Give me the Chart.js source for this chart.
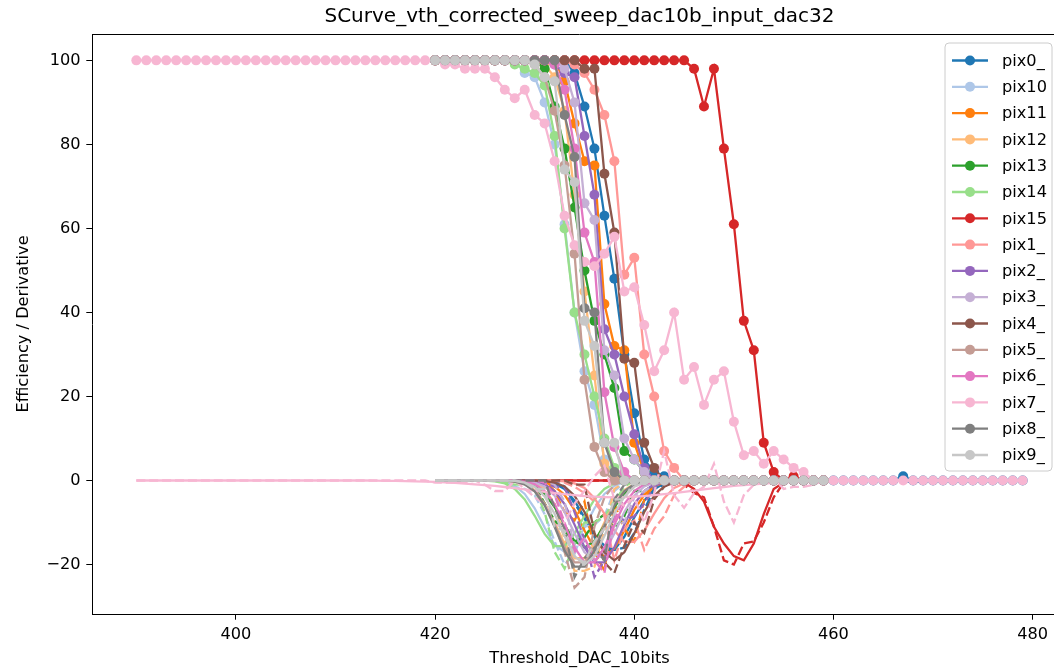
<!DOCTYPE html>
<html>
<head>
<meta charset="utf-8">
<script src="https://cdn.jsdelivr.net/npm/chart.js@4.4.1/dist/chart.umd.min.js"></script>
<style>
  html, body { margin: 0; padding: 0; background: #fff; overflow: hidden; width: 1054px; height: 669px; }
  #wrap { position: absolute; left: 0; top: 0; width: 1075px; height: 669px; }
</style>
</head>
<body>
<div id="wrap"><canvas id="c" width="1075" height="669"></canvas></div>
<script>
// ---------------- DATA ----------------
const chartTitle = 'SCurve_vth_corrected_sweep_dac10b_input_dac32';
const xTitle = 'Threshold_DAC_10bits';
const yTitle = 'Efficiency / Derivative';
const xTickValues = [400, 420, 440, 460, 480];
const yTickValues = [-20, 0, 20, 40, 60, 80, 100];

const thresholds = [
  390,391,392,393,394,395,396,397,398,399,
  400,401,402,403,404,405,406,407,408,409,
  410,411,412,413,414,415,416,417,418,419,
  420,421,422,423,424,425,426,427,428,429,
  430,431,432,433,434,435,436,437,438,439,
  440,441,442,443,444,445,446,447,448,449,
  450,451,452,453,454,455,456,457,458,459,
  460,461,462,463,464,465,466,467,468,469,
  470,471,472,473,474,475,476,477,478,479
];

const pixelLabels = ['pix0_','pix10','pix11','pix12','pix13','pix14','pix15','pix1_','pix2_','pix3_','pix4_','pix5_','pix6_','pix7_','pix8_','pix9_'];
const firstDac    = [420, 420, 420, 420, 420, 420, 420, 420, 420, 420, 420, 420, 420, 390, 420, 420];

// Efficiency (S-curve) values
const eff_pix0 = [100,100,100,100,100,100,100,100,100,100,100,100,100,100,97,89,79,63,48,30,16,5,2,1,0,0,0,0,0,0,0,0,0,0,0,0,0,0,0,0,0,0,0,0,0,0,0,1,0,0,0,0,0,0,0,0,0,0,0,0];
const eff_pix10 = [100,100,100,100,100,100,100,100,100,97,96,90,80,61,40,26,18,5,1,0,0,0,0,0,0,0,0,0,0,0,0,0,0,0,0,0,0,0,0,0];
const eff_pix11 = [100,100,100,100,100,100,100,100,100,100,100,100,100,95,85,76,75,42,32,31,9,2,0,0,0,0,0,0,0,0,0,0,0,0,0,0,0,0,0,0];
const eff_pix12 = [100,100,100,100,100,100,100,100,100,100,100,99,96,88,68,45,25,4,1,0,0,0,0,0,0,0,0,0,0,0,0,0,0,0,0,0,0,0,0,0];
const eff_pix13 = [100,100,100,100,100,100,100,100,100,100,100,98,89,79,65,50,38,30,22,7,5,2,0,0,0,0,0,0,0,0,0,0,0,0,0,0,0,0,0,0];
const eff_pix14 = [100,100,100,100,100,100,100,100,99,98,97,94,82,60,40,30,20,10,3,0,0,0,0,0,0,0,0,0,0,0,0,0,0,0,0,0,0,0,0,0];
const eff_pix15 = [100,100,100,100,100,100,100,100,100,100,100,100,100,100,100,100,100,100,100,100,100,100,100,100,100,100,98,89,98,79,61,38,31,9,2,0,1,0,0,0];
const eff_pix1 = [100,100,100,100,100,100,100,100,100,100,100,100,100,100,99,97,93,87,76,49,53,30,20,7,3,0,0,0,0,0,0,0,0,0,0,0,0,0,0,0];
const eff_pix2 = [100,100,100,100,100,100,100,100,100,100,100,100,99,97,96,82,68,36,30,20,11,3,0,0,0,0,0,0,0,0,0,0,0,0,0,0,0,0,0,0];
const eff_pix3 = [100,100,100,100,100,100,100,100,100,100,100,100,100,98,90,66,62,31,25,10,5,2,0,0,0,0,0,0,0,0,0,0,0,0,0,0,0,0,0,0];
const eff_pix4 = [100,100,100,100,100,100,100,100,100,100,100,100,100,100,100,98,98,73,59,29,28,9,3,0,0,0,0,0,0,0,0,0,0,0,0,0,0,0,0,0];
const eff_pix5 = [100,100,100,100,100,100,100,100,100,100,99,96,88,75,54,24,8,2,0,0,0,0,0,0,0,0,0,0,0,0,0,0,0,0,0,0,0,0,0,0];
const eff_pix6 = [100,100,100,100,100,100,100,100,100,100,100,100,99,93,79,59,52,21,8,2,0,0,0,0,0,0,0,0,0,0,0,0,0,0,0,0,0,0,0,0];
const eff_pix7 = [100,100,100,100,100,100,100,100,100,100,100,100,100,100,100,100,100,100,100,100,100,100,100,100,100,100,100,100,100,100,100,
  99,99,98,98,98,96,93,91,93,87,85,76,63,56,52,51,54,58,45,46,37,26,31,40,24,27,18,24,26,14,6,7,4,7,5,3,2,
  0,0,0,0,0,0,0,0,0,0,0,0,0,0,0,0,0,0,0,0,0,0];
const eff_pix8 = [100,100,100,100,100,100,100,100,100,100,100,100,100,87,77,41,40,9,2,0,0,0,0,0,0,0,0,0,0,0,0,0,0,0,0,0,0,0,0,0];
const eff_pix9 = [100,100,100,100,100,100,100,100,100,100,99,96,95,74,71,38,32,9,9,0,0,0,0,0,0,0,0,0,0,0,0,0,0,0,0,0,0,0,0,0];

// Smooth derivative (solid lines)
const fit_pix0 = [0,0,0,0,0,0,0,0,0,0,0,-0.2,-0.7,-2.0,-4.8,-8.8,-13.4,-16.5,-16.5,-13.4,-8.8,-4.8,-2.0,-0.7,-0.2,0,0,0,0,0,0,0,0,0,0,0,0,0,0,0,0,0,0,0,0,0,0,0,0,0,0,0,0,0,0,0,0,0,0,0];
const fit_pix10 = [0,0,0,0,0,0,-0.1,-0.4,-1.3,-3.2,-6.6,-11.2,-15.3,-17,-15.3,-11.2,-6.6,-3.2,-1.3,-0.4,-0.1,0,0,0,0,0,0,0,0,0,0,0,0,0,0,0,0,0,0,0];
const fit_pix11 = [0,0,0,0,0,0,0,0,0,0,-0.1,-0.4,-1.4,-3.4,-7.0,-11.9,-16.2,-18,-16.2,-11.9,-7.0,-3.4,-1.4,-0.4,-0.1,0,0,0,0,0,0,0,0,0,0,0,0,0,0,0];
const fit_pix12 = [0,0,0,0,0,0,0,0,-0.25,-0.8,-2.3,-5.4,-10.0,-15.1,-18.5,-18.5,-15.1,-10.0,-5.4,-2.3,-0.8,-0.25,0,0,0,0,0,0,0,0,0,0,0,0,0,0,0,0,0,0];
const fit_pix13 = [0,0,0,0,0,0,0,0,-0.1,-0.4,-1.2,-3.1,-6.3,-10.6,-14.4,-16,-14.4,-10.6,-6.3,-3.1,-1.2,-0.4,-0.1,0,0,0,0,0,0,0,0,0,0,0,0,0,0,0,0,0];
const fit_pix14 = [0,0,0,0,0,0,-0.2,-0.7,-2.0,-4.5,-8.4,-12.7,-15.6,-15.6,-12.7,-8.4,-4.5,-2.0,-0.7,-0.2,0,0,0,0,0,0,0,0,0,0,0,0,0,0,0,0,0,0,0,0];
const fit_pix15 = [0,0,0,0,0,0,0,0,0,0,0,0,0,0,0,0,0,0,0,0,0,0,0,0,0,-0.5,-2,-5,-11,-15,-18,-19,-15,-8,-2,-0.5,0,0,0,0];
const fit_pix1 = [0,0,0,0,0,0,0,0,0,0,0,0,0,-0.2,-0.7,-1.8,-4.2,-7.9,-11.9,-14.6,-14.6,-11.9,-7.9,-4.2,-1.8,-0.7,-0.2,0,0,0,0,0,0,0,0,0,0,0,0,0];
const fit_pix2 = [0,0,0,0,0,0,0,0,0,0,-0.25,-0.9,-2.5,-5.6,-10.5,-15.9,-19.5,-19.5,-15.9,-10.5,-5.6,-2.5,-0.9,-0.25,0,0,0,0,0,0,0,0,0,0,0,0,0,0,0,0];
const fit_pix3 = [0,0,0,0,0,0,0,0,0,-0.1,-0.5,-1.4,-3.6,-7.5,-12.6,-17.1,-19,-17.1,-12.6,-7.5,-3.6,-1.4,-0.5,-0.1,0,0,0,0,0,0,0,0,0,0,0,0,0,0,0,0];
const fit_pix4 = [0,0,0,0,0,0,0,0,0,0,0,-0.1,-0.5,-1.4,-3.6,-7.5,-12.6,-17.1,-19,-17.1,-12.6,-7.5,-3.6,-1.4,-0.5,-0.1,0,0,0,0,0,0,0,0,0,0,0,0,0,0];
const fit_pix5 = [0,0,0,0,0,0,0,0,-0.25,-0.9,-2.5,-5.6,-10.5,-15.9,-19.5,-19.5,-15.9,-10.5,-5.6,-2.5,-0.9,-0.25,0,0,0,0,0,0,0,0,0,0,0,0,0,0,0,0,0,0];
const fit_pix6 = [0,0,0,0,0,0,0,0,0,-0.25,-0.9,-2.5,-5.6,-10.5,-15.9,-19.5,-19.5,-15.9,-10.5,-5.6,-2.5,-0.9,-0.25,0,0,0,0,0,0,0,0,0,0,0,0,0,0,0,0,0];
const fit_pix7 = [0,0,0,0,0,0,0,0,0,0,0,0,0,0,0,0,0,0,0,0,0,0,0,0,
  -0.05,-0.08,-0.1,-0.15,-0.2,-0.27,-0.35,-0.45,-0.57,-0.72,-0.9,-1.1,-1.3,-1.55,-1.8,-2.1,-2.4,-2.7,-3.0,-3.25,-3.5,-3.7,-3.85,-3.95,-4.0,
  -3.95,-3.85,-3.7,-3.5,-3.25,-3.0,-2.7,-2.4,-2.1,-1.8,-1.55,-1.3,-1.1,-0.9,-0.72,-0.57,-0.45,-0.35,-0.27,-0.2,-0.15,-0.1,-0.08,-0.05,-0.03,
  0,0,0,0,0,0,0,0,0,0,0,0,0,0,0,0];
const fit_pix8 = [0,0,0,0,0,0,0,0,-0.27,-0.9,-2.6,-5.9,-11.0,-16.7,-20.5,-20.5,-16.7,-11.0,-5.9,-2.6,-0.9,-0.27,0,0,0,0,0,0,0,0,0,0,0,0,0,0,0,0,0,0];
const fit_pix9 = [0,0,0,0,0,0,0,0,-0.1,-0.5,-1.5,-3.8,-7.9,-13.2,-18,-20,-18,-13.2,-7.9,-3.8,-1.5,-0.5,-0.1,0,0,0,0,0,0,0,0,0,0,0,0,0,0,0,0,0];

// Raw derivative (dashed lines)
const diff_pix0 = [0,0,0,0,0,0,0,0,0,0,0,0,0,-1.5,-5.5,-9,-13,-15.5,-16.5,-16,-12.5,-7,-2,-1,-0.5,0,0,0,0,0,0,0,0,0,0,0,0,0,0,0,0,0,0,0,0,0,0.5,0,-0.5,0,0,0,0,0,0,0,0,0,0,0];
const diff_pix10 = [0,0,0,0,0,0,0,0,-1.5,-2,-3.5,-8,-14.5,-20,-17.5,-11,-10.5,-8.5,-2.5,-0.5,0,0,0,0,0,0,0,0,0,0,0,0,0,0,0,0,0,0,0,0];
const diff_pix11 = [0,0,0,0,0,0,0,0,0,0,0,0,-2.5,-7.5,-9.5,-5,-17,-21.5,-5.5,-11.5,-14.5,-4.5,-1,0,0,0,0,0,0,0,0,0,0,0,0,0,0,0,0,0];
const diff_pix12 = [0,0,0,0,0,0,0,0,0,0,-0.5,-2,-5.5,-14,-21.5,-21.5,-20.5,-12,-2,-0.5,0,0,0,0,0,0,0,0,0,0,0,0,0,0,0,0,0,0,0,0];
const diff_pix13 = [0,0,0,0,0,0,0,0,0,0,-1,-5.5,-9.5,-12,-14.5,-13.5,-10,-8,-11.5,-8.5,-2.5,-2.5,-1,0,0,0,0,0,0,0,0,0,0,0,0,0,0,0,0,0];
const diff_pix14 = [0,0,0,0,0,0,0,-0.5,-1,-1,-2,-7.5,-17,-21,-15,-10,-10,-8.5,-5,-1.5,0,0,0,0,0,0,0,0,0,0,0,0,0,0,0,0,0,0,0,0];
const diff_pix15 = [0,0,0,0,0,0,0,0,0,0,0,0,0,0,0,0,0,0,0,0,0,0,0,0,0,-1,-3,-4,-11,-19,-20,-15,-14.5,-10,-4,-0.5,0,-0.5,0,0];
const diff_pix1 = [0,0,0,0,0,0,0,0,0,0,0,0,0,-0.5,-1.5,-3,-5,-8.5,-19,-11.5,-9.5,-16.5,-11.5,-8.5,-3.5,-1.5,0,0,0,0,0,0,0,0,0,0,0,0,0,0];
const diff_pix2 = [0,0,0,0,0,0,0,0,0,0,0,-0.5,-1.5,-1.5,-7.5,-14,-23,-19,-8,-9.5,-8.5,-5.5,-1.5,0,0,0,0,0,0,0,0,0,0,0,0,0,0,0,0,0];
const diff_pix3 = [0,0,0,0,0,0,0,0,0,0,0,0,-1,-5,-16,-14,-17.5,-18.5,-10.5,-10,-4,-2.5,-1,0,0,0,0,0,0,0,0,0,0,0,0,0,0,0,0,0];
const diff_pix4 = [0,0,0,0,0,0,0,0,0,0,0,0,0,0,-1,-1,-12.5,-19.5,-22,-15.5,-10,-12.5,-4.5,-1.5,0,0,0,0,0,0,0,0,0,0,0,0,0,0,0,0];
const diff_pix5 = [0,0,0,0,0,0,0,0,0,-0.5,-2,-5.5,-10.5,-17,-25.5,-23,-11,-4,-1,0,0,0,0,0,0,0,0,0,0,0,0,0,0,0,0,0,0,0,0,0];
const diff_pix6 = [0,0,0,0,0,0,0,0,0,0,0,-0.5,-3.5,-10,-17,-13.5,-19,-22,-9.5,-4,-1,0,0,0,0,0,0,0,0,0,0,0,0,0,0,0,0,0,0,0];
const diff_pix7 = [0,0,0,0,0,0,0,0,0,0,0,0,0,0,0,0,0,0,0,0,0,0,0,0,0,0,0,0,0,0,
  -0.5,-0.5,-0.5,-0.5,0,-1,-2.5,-2.5,0,-2,-4,-5.5,-11,-10,-5.5,-2.5,1,3.5,-4.5,-6,-4,-10,-3,7,-3.5,-6.5,-3,-1.5,4,-5,-10,-3.5,-1,0,0.5,-2,-1.5,-1.5,-1,
  0,0,0,0,0,0,0,0,0,0,0,0,0,0,0,0,0,0,0,0,0];
const diff_pix8 = [0,0,0,0,0,0,0,0,0,0,0,0,-6.5,-11.5,-23,-18.5,-16,-19,-4.5,-1,0,0,0,0,0,0,0,0,0,0,0,0,0,0,0,0,0,0,0,0];
const diff_pix9 = [0,0,0,0,0,0,0,0,0,-0.5,-2,-2,-11,-12,-18,-19.5,-14.5,-11.5,-4.5,-4.5,0,0,0,0,0,0,0,0,0,0,0,0,0,0,0,0,0,0,0,0];

const effSeries  = [eff_pix0, eff_pix10, eff_pix11, eff_pix12, eff_pix13, eff_pix14, eff_pix15, eff_pix1, eff_pix2, eff_pix3, eff_pix4, eff_pix5, eff_pix6, eff_pix7, eff_pix8, eff_pix9];
const fitSeries  = [fit_pix0, fit_pix10, fit_pix11, fit_pix12, fit_pix13, fit_pix14, fit_pix15, fit_pix1, fit_pix2, fit_pix3, fit_pix4, fit_pix5, fit_pix6, fit_pix7, fit_pix8, fit_pix9];
const diffSeries = [diff_pix0, diff_pix10, diff_pix11, diff_pix12, diff_pix13, diff_pix14, diff_pix15, diff_pix1, diff_pix2, diff_pix3, diff_pix4, diff_pix5, diff_pix6, diff_pix7, diff_pix8, diff_pix9];

// ---------------- STYLE ----------------
const palette = ['#1f77b4','#aec7e8','#ff7f0e','#ffbb78','#2ca02c','#98df8a','#d62728','#ff9896','#9467bd','#c5b0d5','#8c564b','#c49c94','#e377c2','#f7b6d2','#7f7f7f','#c7c7c7'];
const FONT = '"DejaVu Sans", "Liberation Sans", sans-serif';
const TICK_PX = 16.2;
const LW = 2.3;
const MR = 5.0;

function toPoints(start, values) {
  const off = thresholds.indexOf(start);
  return values.map((v, i) => ({ x: thresholds[off + i], y: v }));
}

const datasets = [];
pixelLabels.forEach((lab, p) => {
  const col = palette[p];
  datasets.push({
    label: lab, isCurve: true,
    data: toPoints(firstDac[p], effSeries[p]),
    borderColor: col, backgroundColor: col,
    pointBackgroundColor: col, pointBorderWidth: 0, pointRadius: MR,
    borderWidth: LW
  });
  datasets.push({
    label: lab + 'fit', isCurve: false,
    data: toPoints(firstDac[p], fitSeries[p]),
    borderColor: col, backgroundColor: col, pointRadius: 0, borderWidth: LW
  });
  datasets.push({
    label: lab + 'diff', isCurve: false,
    data: toPoints(firstDac[p], diffSeries[p]),
    borderColor: col, backgroundColor: col, pointRadius: 0, borderWidth: LW,
    borderDash: [9, 3.9]
  });
});
datasets.forEach((d, i) => { d.order = -i; d.tension = 0; });

const framePlugin = {
  id: 'mplFrame',
  afterDraw(chart) {
    const ctx = chart.ctx, a = chart.chartArea;
    ctx.save();
    ctx.strokeStyle = '#000'; ctx.lineWidth = 1;
    ctx.beginPath();
    ctx.moveTo(a.left, a.top + 0.5); ctx.lineTo(a.right, a.top + 0.5);
    ctx.moveTo(a.right - 0.5, a.top); ctx.lineTo(a.right - 0.5, a.bottom);
    ctx.stroke();
    // title
    ctx.fillStyle = '#000';
    ctx.font = '20px ' + FONT;
    ctx.textAlign = 'center'; ctx.textBaseline = 'middle';
    ctx.fillText(chartTitle, (a.left + a.right) / 2, 17);
    // legend
    const curves = chart.data.datasets.filter(d => d.isCurve);
    const bx = 945, by = 43, bw = 107, bh = 428, r = 4;
    ctx.beginPath();
    ctx.moveTo(bx + r, by); ctx.lineTo(bx + bw - r, by); ctx.quadraticCurveTo(bx + bw, by, bx + bw, by + r);
    ctx.lineTo(bx + bw, by + bh - r); ctx.quadraticCurveTo(bx + bw, by + bh, bx + bw - r, by + bh);
    ctx.lineTo(bx + r, by + bh); ctx.quadraticCurveTo(bx, by + bh, bx, by + bh - r);
    ctx.lineTo(bx, by + r); ctx.quadraticCurveTo(bx, by, bx + r, by);
    ctx.closePath();
    ctx.fillStyle = 'rgba(255,255,255,0.8)'; ctx.fill();
    ctx.strokeStyle = '#cccccc'; ctx.lineWidth = 1; ctx.stroke();
    ctx.font = '16.2px ' + FONT;
    ctx.textAlign = 'left'; ctx.textBaseline = 'middle';
    curves.forEach((d, i) => {
      const y = 60.5 + i * 26.3;
      ctx.strokeStyle = d.borderColor; ctx.lineWidth = LW;
      ctx.beginPath(); ctx.moveTo(952, y); ctx.lineTo(988, y); ctx.stroke();
      ctx.fillStyle = d.borderColor;
      ctx.beginPath(); ctx.arc(970, y, MR, 0, Math.PI * 2); ctx.fill();
      ctx.fillStyle = '#000';
      ctx.fillText(d.label, 1002, y + 1);
    });
    ctx.restore();
  }
};

const fmt = v => (v < 0 ? '\u2212' + Math.abs(v) : String(v));

new Chart(document.getElementById('c'), {
  type: 'line',
  data: { datasets },
  plugins: [framePlugin],
  options: {
    responsive: false,
    animation: false,
    events: [],
    layout: { padding: { top: 34, right: 8, left: 0, bottom: 0 } },
    plugins: { legend: { display: false }, title: { display: false }, tooltip: { enabled: false } },
    scales: {
      x: {
        type: 'linear', min: 385.55, max: 483.45,
        afterBuildTicks: s => { s.ticks = xTickValues.map(v => ({ value: v })); },
        afterFit: s => { s.height = 55; },
        ticks: { font: { family: FONT, size: TICK_PX }, color: '#000', padding: 5, maxRotation: 0, callback: fmt },
        grid: { display: true, drawOnChartArea: false, drawTicks: true, tickLength: 5.7, color: '#000', lineWidth: 1 },
        border: { display: true, color: '#000', width: 1 },
        title: { display: true, text: xTitle, font: { family: FONT, size: TICK_PX }, color: '#000', padding: { top: 0, bottom: 0 } }
      },
      y: {
        type: 'linear', min: -31.775, max: 106.275,
        afterBuildTicks: s => { s.ticks = yTickValues.map(v => ({ value: v })); },
        afterFit: s => { s.width = 92; },
        ticks: { font: { family: FONT, size: TICK_PX }, color: '#000', padding: 5.7, callback: fmt },
        grid: { display: true, drawOnChartArea: false, drawTicks: true, tickLength: 5.7, color: '#000', lineWidth: 1 },
        border: { display: true, color: '#000', width: 1 },
        title: { display: true, text: yTitle, font: { family: FONT, size: TICK_PX }, color: '#000', padding: { top: 14, bottom: 0 } }
      }
    }
  }
});
</script>
</body>
</html>
